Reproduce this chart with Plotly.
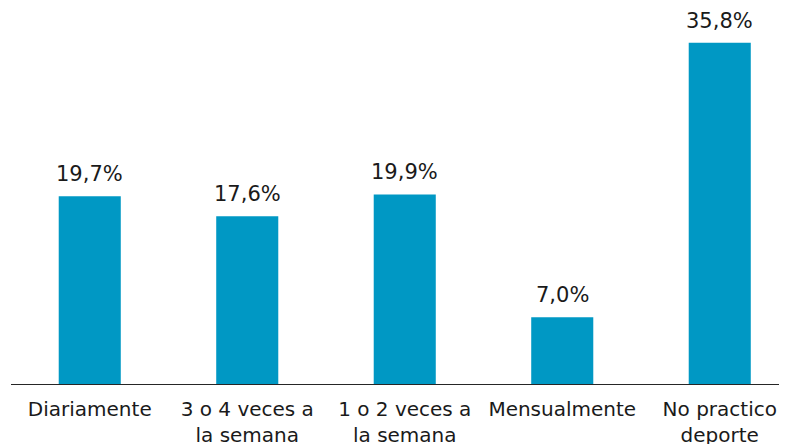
import plotly.graph_objects as go

categories = ["Diariamente", "3 o 4 veces a<br>la semana", "1 o 2 veces a<br>la semana", "Mensualmente", "No practico<br>deporte"]
values = [19.7, 17.6, 19.9, 7.0, 35.8]
value_labels = ["19,7%", "17,6%", "19,9%", "7,0%", "35,8%"]

bar_color = "#0098C4"
text_color = "#1a1a1a"
font_family = "DejaVu Sans, Verdana, sans-serif"

fig = go.Figure()
fig.add_trace(go.Bar(
    x=list(range(len(categories))),
    y=values,
    width=0.394,
    marker=dict(color=bar_color, line=dict(width=0)),
    hoverinfo="skip",
))

for i, (v, lab) in enumerate(zip(values, value_labels)):
    fig.add_annotation(
        x=i, y=v, xref="x", yref="y",
        text=lab, showarrow=False,
        yanchor="bottom", yshift=8,
        font=dict(family=font_family, size=21, color=text_color),
    )

fig.update_layout(
    width=779, height=436,
    margin=dict(l=3, r=0, t=2, b=60),
    paper_bgcolor="white", plot_bgcolor="white",
    showlegend=False,
    font=dict(family=font_family, size=20, color=text_color),
    xaxis=dict(
        range=[-0.5, 4.427],
        tickmode="array",
        tickvals=list(range(len(categories))),
        ticktext=categories,
        showline=True, linecolor="#262626", linewidth=1,
        showgrid=False, zeroline=False, ticks="",
        ticklabelstandoff=7,
        tickfont=dict(family=font_family, size=20, color=text_color),
        fixedrange=True,
        automargin=False,
    ),
    yaxis=dict(
        range=[0, 39.25],
        visible=False, showgrid=False, zeroline=False,
        fixedrange=True,
    ),
)

fig.write_html("out.html")
